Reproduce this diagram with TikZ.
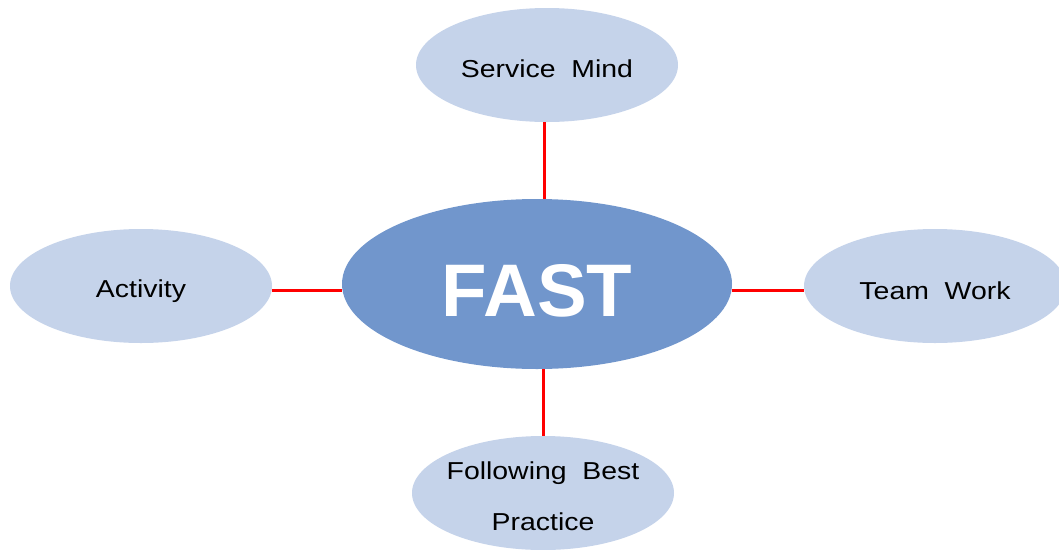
\documentclass[tikz,border=0pt]{standalone}
\usepackage{fontspec}
\setmainfont{Liberation Sans}
\newfontfamily\widefont[FakeStretch=1.16]{Liberation Sans}
\usetikzlibrary{shapes.geometric}
\definecolor{outerblue}{HTML}{C5D3EA}
\definecolor{centerblue}{HTML}{7196CC}
\definecolor{linkred}{HTML}{FF0000}
\newcommand{\lowtext}[2]{\makebox[0pt][c]{\raisebox{-#1}[\height][\depth]{#2}}}
\tikzset{
  outerbubble/.style={ellipse, fill=outerblue, draw=none, minimum width=262pt, minimum height=114pt, inner sep=0pt, font=\widefont\fontsize{24.5}{30}\selectfont, text=black, align=center},
  centerbubble/.style={ellipse, fill=centerblue, draw=none, minimum width=390pt, minimum height=170pt, inner sep=0pt, font=\bfseries\fontsize{74.5}{80}\selectfont, text=white},
  link/.style={draw=linkred, line width=3pt}
}
\begin{document}
\begin{tikzpicture}[x=1pt,y=-1pt]
\useasboundingbox (0,0) rectangle (1059,549);
\node[centerbubble] (fast) at (537,284) {\lowtext{7pt}{FAST}};
\node[outerbubble] (top) at (547,65) {\lowtext{4pt}{Service\ \ Mind}};
\node[outerbubble] (left) at (141,286) {\lowtext{5pt}{Activity}};
\node[outerbubble] (right) at (935,286) {\lowtext{5pt}{Team\ \ Work}};
\node[outerbubble] (bottom) at (543,493) {\lowtext{3pt}{Following\ \ Best}\\[21pt]\lowtext{3pt}{Practice}};
\draw[link] ([xshift=-2.5pt]top.south) -- ([xshift=-2.5pt]top.south |- fast.north);
\draw[link] ([yshift=-4pt]left.east) -- ([yshift=-4pt]left.east -| fast.west);
\draw[link] ([yshift=-4pt]right.west) -- ([yshift=-4pt]right.west -| fast.east);
\draw[link] (bottom.north) -- (bottom.north |- fast.south);
\end{tikzpicture}
\end{document}
